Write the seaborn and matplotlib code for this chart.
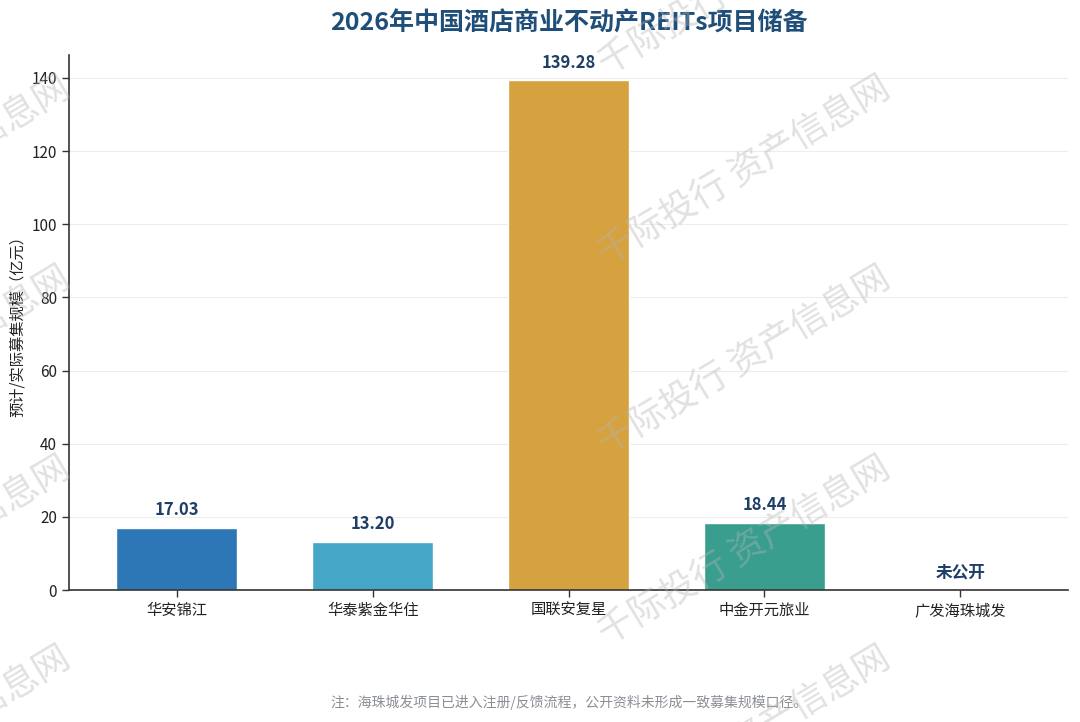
import numpy as np
import pandas as pd
import matplotlib
matplotlib.use("Agg")
import matplotlib.pyplot as plt
import seaborn as sns

# ---- data ----
categories = ["华安锦江", "华泰紫金华住", "国联安复星", "中金开元旅业", "广发海珠城发"]
values = [17.03, 13.20, 139.28, 18.44, np.nan]
bar_colors = ["#2E77B6", "#45A6C7", "#D6A23F", "#3A9E8E", "#9E9E9E"]
title = "2026年中国酒店商业不动产REITs项目储备"
ylabel = "预计/实际募集规模（亿元）"
note = "注：海珠城发项目已进入注册/反馈流程，公开资料未形成一致募集规模口径。"
missing_label = "未公开"
watermark = "千际投行 资产信息网"

sns.set_theme(style="white")
plt.rcParams["font.family"] = ["Noto Sans CJK SC", "DejaVu Sans"]
plt.rcParams["axes.unicode_minus"] = False

df = pd.DataFrame({"cat": categories, "val": values})

fig = plt.figure(figsize=(10.8, 7.22), dpi=100)
ax = fig.add_axes([0.0639, 0.1828, 0.925, 0.741])

sns.barplot(data=df, x="cat", y="val", hue="cat", palette=bar_colors,
            legend=False, width=0.62, ax=ax, saturation=1, zorder=2)

ymax = np.nanmax(values) * 1.05
ax.set_ylim(0, ymax)
ax.set_xlim(-0.55, len(categories) - 0.45)
ax.set_yticks([0, 20, 40, 60, 80, 100, 120, 140])

ax.yaxis.grid(True, color="#EDEDED", linewidth=0.8, zorder=0)
ax.xaxis.grid(False)
ax.set_axisbelow(True)

for s in ["top", "right"]:
    ax.spines[s].set_visible(False)
for s in ["left", "bottom"]:
    ax.spines[s].set_color("#333333")
    ax.spines[s].set_linewidth(1.2)

ax.tick_params(axis="both", which="both", length=5, width=1, color="#333333",
               labelsize=11, labelcolor="#222222", direction="out",
               bottom=True, left=True)
ax.set_xlabel("")
ax.set_ylabel(ylabel, fontsize=11, color="#222222", labelpad=4)

label_color = "#1F3F66"
for i, v in enumerate(values):
    if np.isnan(v):
        ax.annotate(missing_label, (i, 0), xytext=(0, 6), textcoords="offset points",
                    ha="center", va="bottom", fontsize=12, fontweight="bold",
                    color=label_color)
    else:
        ax.annotate(f"{v:.2f}", (i, v), xytext=(0, 6), textcoords="offset points",
                    ha="center", va="bottom", fontsize=12, fontweight="bold",
                    color=label_color)

fig.text(0.527, 0.968, title, ha="center", va="center", fontsize=18,
         fontweight="bold", color="#1F4E79")
fig.text(0.527, 0.027, note, ha="center", va="center", fontsize=10,
         color="#8A8F96")

# watermark tiles
for cx in [-75, 745]:
    for cy in [-18, 172, 362, 552, 742]:
        fig.text(cx / 1080, 1 - cy / 722, watermark, ha="center", va="center",
                 rotation=31, rotation_mode="anchor", fontsize=26,
                 color="#B4B4B4", alpha=0.4, zorder=10)

fig.savefig("out.png", dpi=100)
